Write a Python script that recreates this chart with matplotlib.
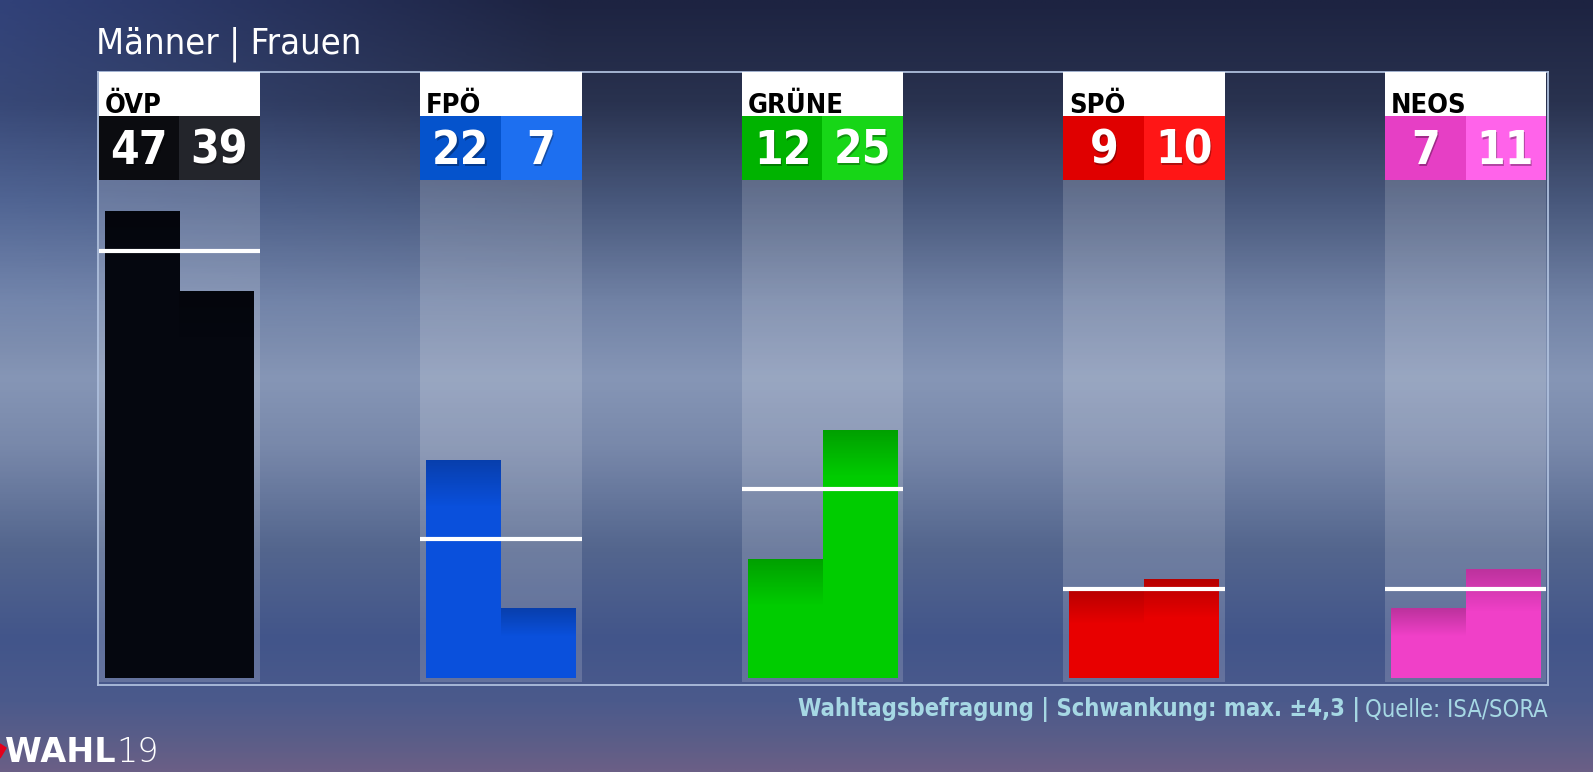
import matplotlib
matplotlib.use("Agg")
import matplotlib.pyplot as plt
import matplotlib.colors as mcolors
import numpy as np

# Daten: Wahltagsbefragung, Männer | Frauen
parteien = ["ÖVP", "FPÖ", "GRÜNE", "SPÖ", "NEOS"]
maenner = [47, 22, 12, 9, 7]
frauen = [39, 7, 25, 10, 11]
gesamt = [43, 14, 19, 9, 9]          # weiße Linie

farbe_m = ["#0b0c10", "#0553cc", "#00b300", "#e00000", "#e63fc5"]
farbe_f = ["#23252b", "#1d6ff0", "#17d617", "#ff1616", "#ff63ea"]
farbe_balken = ["#05070f", "#0a50dc", "#00cc00", "#e80000", "#f040c8"]

titel = "Männer | Frauen"
fuss_fett = "Wahltagsbefragung | Schwankung: max. ±4,3 |"
fuss_quelle = "Quelle: ISA/SORA"

plt.rcParams['font.family'] = ["DejaVu Sans"]
STRETCH = "condensed"   # DejaVu Sans Condensed

W, H = 1593, 772
fig = plt.figure(figsize=(W / 100, H / 100), dpi=100)

# ---------- Hintergrund (Verlauf) ----------
bg = fig.add_axes([0, 0, 1, 1])
bg.set_axis_off()
stops = [(0.00, "#1d2341"), (0.13, "#29324f"), (0.26, "#48587c"), (0.39, "#7182a5"),
         (0.49, "#8696b6"), (0.58, "#7888aa"), (0.71, "#54668e"), (0.83, "#42558a"),
         (0.91, "#4b5a8c"), (0.96, "#5a5d88"), (1.00, "#6a5f86")]
cmap_bg = mcolors.LinearSegmentedColormap.from_list("bg", stops)
yy = np.linspace(0, 1, 400)[:, None]
xx = np.linspace(0, 1, 400)[None, :]
grad = cmap_bg(np.repeat(yy, 400, axis=1))[..., :3]
hell = np.clip(1 - xx / 0.35, 0, 1) * np.clip(1 - yy / 0.45, 0, 1)
grad = grad + hell[..., None] * np.array([0.08, 0.12, 0.22])
bg.imshow(np.clip(grad, 0, 1), extent=[0, 1, 0, 1], aspect="auto", origin="upper")
bg.set_xlim(0, 1)
bg.set_ylim(0, 1)

# ---------- Diagramm ----------
L, R, T, B = 98, 1548, 72, 685
ax = fig.add_axes([L / W, (H - B) / H, (R - L) / W, (B - T) / H])
ax.patch.set_alpha(0)
px_pro_prozent = 9.93
basis = 678
teilung = 321.6
mitte0 = 179.25
unten = -(B - basis) / px_pro_prozent
oben = (basis - T) / px_pro_prozent
ax.set_xticks([])
ax.set_yticks([])
for s in ax.spines.values():
    s.set_color("#aebfdc")
    s.set_linewidth(1.3)

halb = 0.251
box_unten = (basis - 180) / px_pro_prozent
kopf_unten = (basis - 116) / px_pro_prozent
bw = 0.233
x = np.arange(len(parteien))

for i, p in enumerate(parteien):
    ax.fill_between([i - halb, i + halb], unten + 0.3, box_unten,
                    color="white", alpha=0.16, lw=0, zorder=1)
    ax.fill_between([i - halb, i + halb], kopf_unten, oben, color="white", lw=0, zorder=3)
    ax.text(i - halb + 0.019, kopf_unten + 0.35, p, fontsize=19.5, fontweight="bold",
            fontstretch=STRETCH, color="black", ha="left", va="baseline", zorder=4)
    ax.fill_between([i - halb, i], box_unten, kopf_unten, color=farbe_m[i], lw=0, zorder=3)
    ax.fill_between([i, i + halb], box_unten, kopf_unten, color=farbe_f[i], lw=0, zorder=3)

# Balken
bm = ax.bar(x - 0.1155, maenner, width=bw, color=farbe_balken, zorder=2, lw=0)
bf = ax.bar(x + 0.117, frauen, width=bw, color=farbe_balken, zorder=2, lw=0)

# Verlauf auf den Balken (oben etwas dunkler)
schatten = np.linspace(0, 1, 100)[:, None]
schatten_rgba = np.zeros((100, 1, 4))
schatten_rgba[..., 3] = 0.22 * np.clip(1 - schatten * 2.5, 0, 1)
for bars in (bm, bf):
    for b in bars:
        x0, y0 = b.get_x(), b.get_y()
        h = b.get_height()
        ext_h = min(h, 12)
        im = ax.imshow(schatten_rgba, extent=[x0, x0 + b.get_width(), y0 + h - ext_h, y0 + h],
                       origin="upper", aspect="auto", zorder=2.1, interpolation="bilinear")
        im.set_clip_path(b)
ax.set_xlim((L - mitte0) / teilung, (R - mitte0) / teilung)
ax.set_ylim(unten, oben)

# weiße Linien
ax.hlines(gesamt, x - halb, x + halb, color="white", lw=3, zorder=5)

# Zahlen
zahl_y = (basis - 151) / px_pro_prozent
for i in range(len(parteien)):
    for dx, v in ((-0.124, maenner[i]), (0.123, frauen[i])):
        ax.text(i + dx + 0.004, zahl_y - 0.25, str(v), fontsize=33, fontweight="bold",
                fontstretch=STRETCH, color="black", alpha=0.3, ha="center", va="center", zorder=4)
        ax.text(i + dx, zahl_y, str(v), fontsize=33, fontweight="bold",
                fontstretch=STRETCH, color="white", ha="center", va="center", zorder=4)

# Titel
fig.text(96 / W, 1 - 54 / H, titel, fontsize=26, color="white", fontstretch=STRETCH,
         ha="left", va="baseline")

# Fußzeile
tq = fig.text(1548 / W, 1 - 717 / H, fuss_quelle, fontsize=17, color="#a6d8e4",
              fontstretch=STRETCH, ha="right", va="baseline")
ax.annotate(fuss_fett, xy=(0, 0), xycoords=tq, xytext=(-4, 0), textcoords="offset points",
            fontsize=17, fontweight="bold", fontstretch=STRETCH, color="#a6d8e4",
            ha="right", va="bottom", annotation_clip=False)

# Logo
fig.patches.append(plt.Polygon([[0, 1 - 744 / H], [6 / W, 1 - 748 / H], [0, 1 - 758 / H]],
                               closed=True, transform=fig.transFigure, color="#e3001b"))
tw = fig.text(5 / W, 1 - 762 / H, "WAHL", fontsize=24, fontweight="heavy", color="white",
              family=["DejaVu Sans"], ha="left", va="baseline")
ax.annotate("19", xy=(1, 0), xycoords=tw, xytext=(0.5, 0), textcoords="offset points",
            fontsize=24, fontweight="light", color="white", family=["DejaVu Sans"],
            ha="left", va="bottom", annotation_clip=False)

fig.savefig("out.png", dpi=100)
